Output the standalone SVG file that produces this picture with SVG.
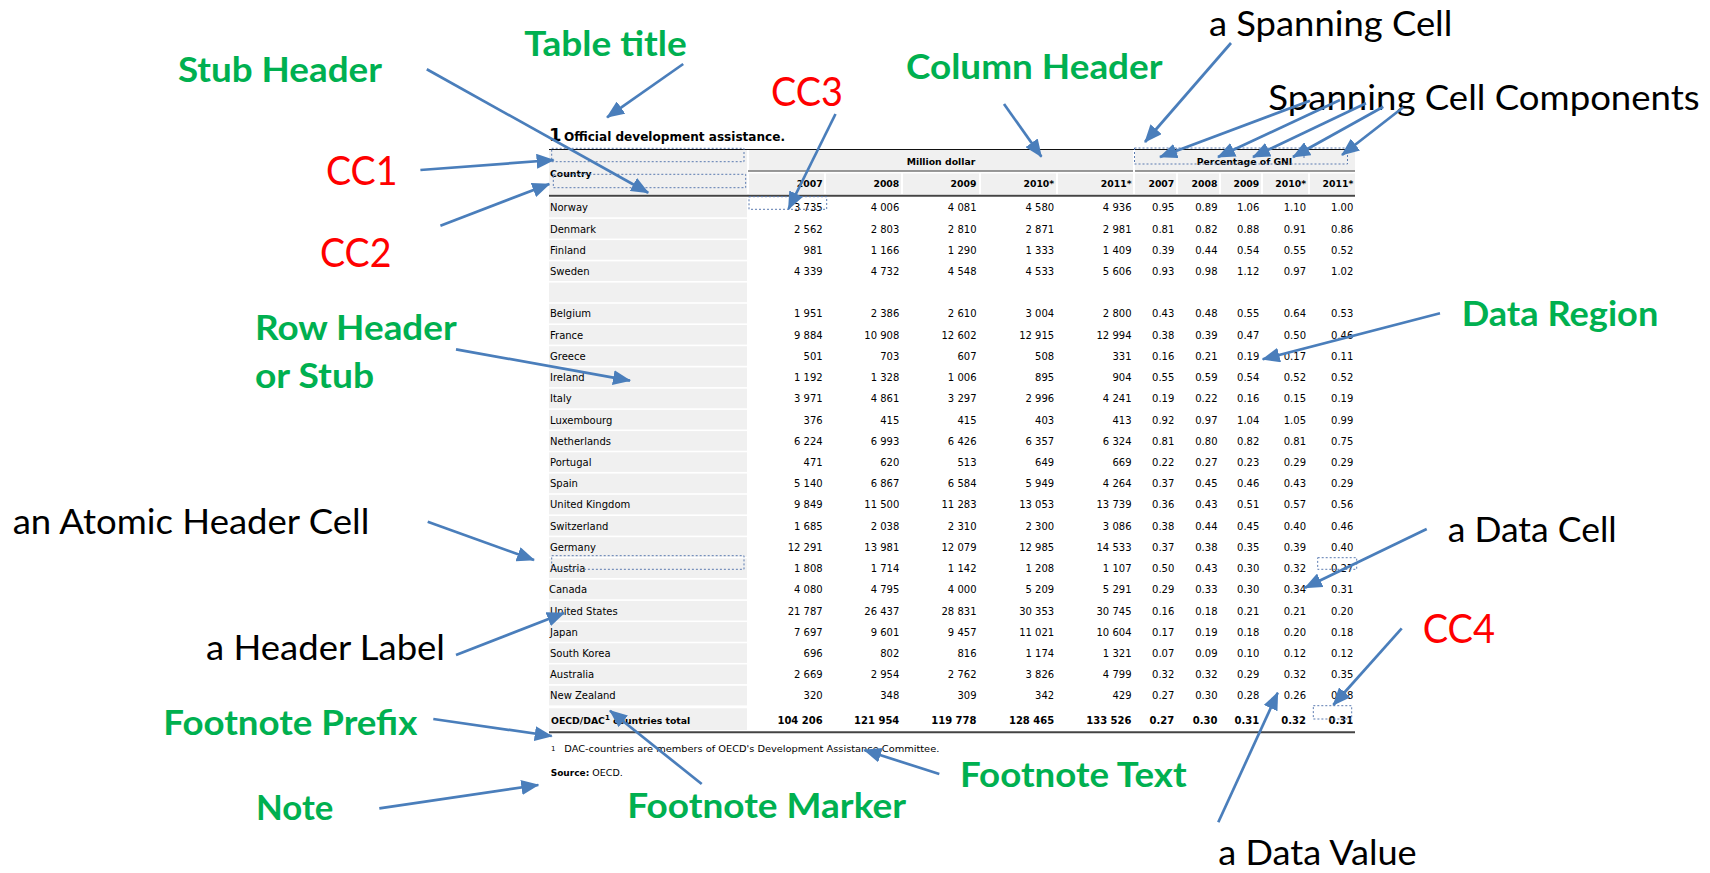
<svg xmlns="http://www.w3.org/2000/svg" width="1710" height="873" viewBox="0 0 1710 873">
<defs>
<marker id="ah" markerUnits="userSpaceOnUse" markerWidth="18" markerHeight="15" viewBox="0 0 18 15" refX="17" refY="7.5" orient="auto">
<path d="M0,0 L18,7.5 L0,15 z" fill="#4A7EBB"/>
</marker>
<style>
.lg{font-family:Lato,"Open Sans","Liberation Sans",sans-serif;font-weight:700;font-size:34px;fill:#00B050}
.lk{font-family:Lato,"Open Sans","Liberation Sans",sans-serif;font-weight:400;font-size:34px;fill:#000}
.lr{font-family:Lato,"Open Sans","Liberation Sans",sans-serif;font-weight:400;font-size:41px;fill:#FF0000}
.t{font-family:"DejaVu Sans","Liberation Sans",sans-serif;font-size:10px;fill:#000}
.t text{font-family:"DejaVu Sans","Liberation Sans",sans-serif;font-size:10px;fill:#000}
.t .n{text-anchor:end}
.t .h{font-weight:bold;font-size:9.3px}
.t .b{font-weight:bold}
.bg{fill:#f0f0f0}
.dash{fill:none;stroke:#5a7ab0;stroke-width:1;stroke-dasharray:2 2}
.arr{stroke:#4A7EBB;stroke-width:2.7;fill:none;marker-end:url(#ah)}
</style>
</defs>
<rect width="1710" height="873" fill="#fff"/>

<g id="table" class="t">
<text x="549" y="140.5" style="font-size:18px;font-weight:bold">1</text>
<text x="564" y="140.5" style="font-size:12px;font-weight:bold" textLength="221" lengthAdjust="spacingAndGlyphs">Official development assistance.</text>
<rect class="bg" x="549" y="150" width="198" height="44"/>
<rect class="bg" x="749" y="150" width="384" height="20.5"/>
<rect class="bg" x="1135" y="150" width="220" height="20.5"/>
<rect class="bg" x="749" y="173.5" width="75" height="20.5"/>
<rect class="bg" x="826" y="173.5" width="75" height="20.5"/>
<rect class="bg" x="903" y="173.5" width="76" height="20.5"/>
<rect class="bg" x="981" y="173.5" width="75" height="20.5"/>
<rect class="bg" x="1058" y="173.5" width="75" height="20.5"/>
<rect class="bg" x="1135" y="173.5" width="41" height="20.5"/>
<rect class="bg" x="1178" y="173.5" width="41" height="20.5"/>
<rect class="bg" x="1221" y="173.5" width="40" height="20.5"/>
<rect class="bg" x="1263" y="173.5" width="45" height="20.5"/>
<rect class="bg" x="1310" y="173.5" width="45" height="20.5"/>
<line x1="549" y1="149.5" x2="1355" y2="149.5" stroke="#111" stroke-width="1.2"/>
<line x1="748" y1="171" x2="1133" y2="171" stroke="#333" stroke-width="1"/>
<line x1="1135" y1="171" x2="1355" y2="171" stroke="#333" stroke-width="1"/>
<line x1="549" y1="195.8" x2="1355" y2="195.8" stroke="#444" stroke-width="2"/>
<text class="h" x="550" y="176.7">Country</text>
<text class="h" x="941" y="165" text-anchor="middle">Million dollar</text>
<text class="h" x="1244.5" y="165" text-anchor="middle">Percentage of GNI</text>
<g transform="translate(0,186.8)">
<text class="h n" x="822.7">2007</text><text class="h n" x="899.3">2008</text><text class="h n" x="976.5">2009</text><text class="h n" x="1054.2">2010*</text><text class="h n" x="1131.5">2011*</text>
<text class="h n" x="1174.3">2007</text><text class="h n" x="1217.5">2008</text><text class="h n" x="1259.3">2009</text><text class="h n" x="1306">2010*</text><text class="h n" x="1353.3">2011*</text>
</g>
<rect class="bg" x="549" y="197.7" width="198" height="19.6"/>
<rect class="bg" x="549" y="218.9" width="198" height="19.6"/>
<rect class="bg" x="549" y="240.1" width="198" height="19.6"/>
<rect class="bg" x="549" y="261.4" width="198" height="19.6"/>
<rect class="bg" x="549" y="282.6" width="198" height="19.6"/>
<rect class="bg" x="549" y="303.8" width="198" height="19.6"/>
<rect class="bg" x="549" y="325.0" width="198" height="19.6"/>
<rect class="bg" x="549" y="346.2" width="198" height="19.6"/>
<rect class="bg" x="549" y="367.5" width="198" height="19.6"/>
<rect class="bg" x="549" y="388.7" width="198" height="19.6"/>
<rect class="bg" x="549" y="409.9" width="198" height="19.6"/>
<rect class="bg" x="549" y="431.1" width="198" height="19.6"/>
<rect class="bg" x="549" y="452.3" width="198" height="19.6"/>
<rect class="bg" x="549" y="473.6" width="198" height="19.6"/>
<rect class="bg" x="549" y="494.8" width="198" height="19.6"/>
<rect class="bg" x="549" y="516.0" width="198" height="19.6"/>
<rect class="bg" x="549" y="537.2" width="198" height="19.6"/>
<rect class="bg" x="549" y="558.4" width="198" height="19.6"/>
<rect class="bg" x="549" y="579.7" width="198" height="19.6"/>
<rect class="bg" x="549" y="600.9" width="198" height="19.6"/>
<rect class="bg" x="549" y="622.1" width="198" height="19.6"/>
<rect class="bg" x="549" y="643.3" width="198" height="19.6"/>
<rect class="bg" x="549" y="664.5" width="198" height="19.6"/>
<rect class="bg" x="549" y="685.8" width="198" height="19.6"/>
<rect class="bg" x="549" y="708.3" width="198" height="21.7"/>
<line x1="549" y1="732.3" x2="1355" y2="732.3" stroke="#444" stroke-width="2"/>

<g transform="translate(0,211.3)"><text x="550">Norway</text><text class="n" x="822.7">3 735</text><text class="n" x="899.3">4 006</text><text class="n" x="976.5">4 081</text><text class="n" x="1054.2">4 580</text><text class="n" x="1131.5">4 936</text><text class="n" x="1174.3">0.95</text><text class="n" x="1217.5">0.89</text><text class="n" x="1259.3">1.06</text><text class="n" x="1306">1.10</text><text class="n" x="1353.3">1.00</text></g>
<g transform="translate(0,232.5)"><text x="550">Denmark</text><text class="n" x="822.7">2 562</text><text class="n" x="899.3">2 803</text><text class="n" x="976.5">2 810</text><text class="n" x="1054.2">2 871</text><text class="n" x="1131.5">2 981</text><text class="n" x="1174.3">0.81</text><text class="n" x="1217.5">0.82</text><text class="n" x="1259.3">0.88</text><text class="n" x="1306">0.91</text><text class="n" x="1353.3">0.86</text></g>
<g transform="translate(0,253.7)"><text x="550">Finland</text><text class="n" x="822.7">981</text><text class="n" x="899.3">1 166</text><text class="n" x="976.5">1 290</text><text class="n" x="1054.2">1 333</text><text class="n" x="1131.5">1 409</text><text class="n" x="1174.3">0.39</text><text class="n" x="1217.5">0.44</text><text class="n" x="1259.3">0.54</text><text class="n" x="1306">0.55</text><text class="n" x="1353.3">0.52</text></g>
<g transform="translate(0,275.0)"><text x="550">Sweden</text><text class="n" x="822.7">4 339</text><text class="n" x="899.3">4 732</text><text class="n" x="976.5">4 548</text><text class="n" x="1054.2">4 533</text><text class="n" x="1131.5">5 606</text><text class="n" x="1174.3">0.93</text><text class="n" x="1217.5">0.98</text><text class="n" x="1259.3">1.12</text><text class="n" x="1306">0.97</text><text class="n" x="1353.3">1.02</text></g>
<g transform="translate(0,317.4)"><text x="550">Belgium</text><text class="n" x="822.7">1 951</text><text class="n" x="899.3">2 386</text><text class="n" x="976.5">2 610</text><text class="n" x="1054.2">3 004</text><text class="n" x="1131.5">2 800</text><text class="n" x="1174.3">0.43</text><text class="n" x="1217.5">0.48</text><text class="n" x="1259.3">0.55</text><text class="n" x="1306">0.64</text><text class="n" x="1353.3">0.53</text></g>
<g transform="translate(0,338.6)"><text x="550">France</text><text class="n" x="822.7">9 884</text><text class="n" x="899.3">10 908</text><text class="n" x="976.5">12 602</text><text class="n" x="1054.2">12 915</text><text class="n" x="1131.5">12 994</text><text class="n" x="1174.3">0.38</text><text class="n" x="1217.5">0.39</text><text class="n" x="1259.3">0.47</text><text class="n" x="1306">0.50</text><text class="n" x="1353.3">0.46</text></g>
<g transform="translate(0,359.8)"><text x="550">Greece</text><text class="n" x="822.7">501</text><text class="n" x="899.3">703</text><text class="n" x="976.5">607</text><text class="n" x="1054.2">508</text><text class="n" x="1131.5">331</text><text class="n" x="1174.3">0.16</text><text class="n" x="1217.5">0.21</text><text class="n" x="1259.3">0.19</text><text class="n" x="1306">0.17</text><text class="n" x="1353.3">0.11</text></g>
<g transform="translate(0,381.1)"><text x="550">Ireland</text><text class="n" x="822.7">1 192</text><text class="n" x="899.3">1 328</text><text class="n" x="976.5">1 006</text><text class="n" x="1054.2">895</text><text class="n" x="1131.5">904</text><text class="n" x="1174.3">0.55</text><text class="n" x="1217.5">0.59</text><text class="n" x="1259.3">0.54</text><text class="n" x="1306">0.52</text><text class="n" x="1353.3">0.52</text></g>
<g transform="translate(0,402.3)"><text x="550">Italy</text><text class="n" x="822.7">3 971</text><text class="n" x="899.3">4 861</text><text class="n" x="976.5">3 297</text><text class="n" x="1054.2">2 996</text><text class="n" x="1131.5">4 241</text><text class="n" x="1174.3">0.19</text><text class="n" x="1217.5">0.22</text><text class="n" x="1259.3">0.16</text><text class="n" x="1306">0.15</text><text class="n" x="1353.3">0.19</text></g>
<g transform="translate(0,423.5)"><text x="550">Luxembourg</text><text class="n" x="822.7">376</text><text class="n" x="899.3">415</text><text class="n" x="976.5">415</text><text class="n" x="1054.2">403</text><text class="n" x="1131.5">413</text><text class="n" x="1174.3">0.92</text><text class="n" x="1217.5">0.97</text><text class="n" x="1259.3">1.04</text><text class="n" x="1306">1.05</text><text class="n" x="1353.3">0.99</text></g>
<g transform="translate(0,444.7)"><text x="550">Netherlands</text><text class="n" x="822.7">6 224</text><text class="n" x="899.3">6 993</text><text class="n" x="976.5">6 426</text><text class="n" x="1054.2">6 357</text><text class="n" x="1131.5">6 324</text><text class="n" x="1174.3">0.81</text><text class="n" x="1217.5">0.80</text><text class="n" x="1259.3">0.82</text><text class="n" x="1306">0.81</text><text class="n" x="1353.3">0.75</text></g>
<g transform="translate(0,465.9)"><text x="550">Portugal</text><text class="n" x="822.7">471</text><text class="n" x="899.3">620</text><text class="n" x="976.5">513</text><text class="n" x="1054.2">649</text><text class="n" x="1131.5">669</text><text class="n" x="1174.3">0.22</text><text class="n" x="1217.5">0.27</text><text class="n" x="1259.3">0.23</text><text class="n" x="1306">0.29</text><text class="n" x="1353.3">0.29</text></g>
<g transform="translate(0,487.2)"><text x="550">Spain</text><text class="n" x="822.7">5 140</text><text class="n" x="899.3">6 867</text><text class="n" x="976.5">6 584</text><text class="n" x="1054.2">5 949</text><text class="n" x="1131.5">4 264</text><text class="n" x="1174.3">0.37</text><text class="n" x="1217.5">0.45</text><text class="n" x="1259.3">0.46</text><text class="n" x="1306">0.43</text><text class="n" x="1353.3">0.29</text></g>
<g transform="translate(0,508.4)"><text x="550">United Kingdom</text><text class="n" x="822.7">9 849</text><text class="n" x="899.3">11 500</text><text class="n" x="976.5">11 283</text><text class="n" x="1054.2">13 053</text><text class="n" x="1131.5">13 739</text><text class="n" x="1174.3">0.36</text><text class="n" x="1217.5">0.43</text><text class="n" x="1259.3">0.51</text><text class="n" x="1306">0.57</text><text class="n" x="1353.3">0.56</text></g>
<g transform="translate(0,529.6)"><text x="550">Switzerland</text><text class="n" x="822.7">1 685</text><text class="n" x="899.3">2 038</text><text class="n" x="976.5">2 310</text><text class="n" x="1054.2">2 300</text><text class="n" x="1131.5">3 086</text><text class="n" x="1174.3">0.38</text><text class="n" x="1217.5">0.44</text><text class="n" x="1259.3">0.45</text><text class="n" x="1306">0.40</text><text class="n" x="1353.3">0.46</text></g>
<g transform="translate(0,550.8)"><text x="550">Germany</text><text class="n" x="822.7">12 291</text><text class="n" x="899.3">13 981</text><text class="n" x="976.5">12 079</text><text class="n" x="1054.2">12 985</text><text class="n" x="1131.5">14 533</text><text class="n" x="1174.3">0.37</text><text class="n" x="1217.5">0.38</text><text class="n" x="1259.3">0.35</text><text class="n" x="1306">0.39</text><text class="n" x="1353.3">0.40</text></g>
<g transform="translate(0,572.0)"><text x="550">Austria</text><text class="n" x="822.7">1 808</text><text class="n" x="899.3">1 714</text><text class="n" x="976.5">1 142</text><text class="n" x="1054.2">1 208</text><text class="n" x="1131.5">1 107</text><text class="n" x="1174.3">0.50</text><text class="n" x="1217.5">0.43</text><text class="n" x="1259.3">0.30</text><text class="n" x="1306">0.32</text><text class="n" x="1353.3">0.27</text></g>
<g transform="translate(0,593.2)"><text x="549">Canada</text><text class="n" x="822.7">4 080</text><text class="n" x="899.3">4 795</text><text class="n" x="976.5">4 000</text><text class="n" x="1054.2">5 209</text><text class="n" x="1131.5">5 291</text><text class="n" x="1174.3">0.29</text><text class="n" x="1217.5">0.33</text><text class="n" x="1259.3">0.30</text><text class="n" x="1306">0.34</text><text class="n" x="1353.3">0.31</text></g>
<g transform="translate(0,614.5)"><text x="550">United States</text><text class="n" x="822.7">21 787</text><text class="n" x="899.3">26 437</text><text class="n" x="976.5">28 831</text><text class="n" x="1054.2">30 353</text><text class="n" x="1131.5">30 745</text><text class="n" x="1174.3">0.16</text><text class="n" x="1217.5">0.18</text><text class="n" x="1259.3">0.21</text><text class="n" x="1306">0.21</text><text class="n" x="1353.3">0.20</text></g>
<g transform="translate(0,635.7)"><text x="550">Japan</text><text class="n" x="822.7">7 697</text><text class="n" x="899.3">9 601</text><text class="n" x="976.5">9 457</text><text class="n" x="1054.2">11 021</text><text class="n" x="1131.5">10 604</text><text class="n" x="1174.3">0.17</text><text class="n" x="1217.5">0.19</text><text class="n" x="1259.3">0.18</text><text class="n" x="1306">0.20</text><text class="n" x="1353.3">0.18</text></g>
<g transform="translate(0,656.9)"><text x="550">South Korea</text><text class="n" x="822.7">696</text><text class="n" x="899.3">802</text><text class="n" x="976.5">816</text><text class="n" x="1054.2">1 174</text><text class="n" x="1131.5">1 321</text><text class="n" x="1174.3">0.07</text><text class="n" x="1217.5">0.09</text><text class="n" x="1259.3">0.10</text><text class="n" x="1306">0.12</text><text class="n" x="1353.3">0.12</text></g>
<g transform="translate(0,678.1)"><text x="550">Australia</text><text class="n" x="822.7">2 669</text><text class="n" x="899.3">2 954</text><text class="n" x="976.5">2 762</text><text class="n" x="1054.2">3 826</text><text class="n" x="1131.5">4 799</text><text class="n" x="1174.3">0.32</text><text class="n" x="1217.5">0.32</text><text class="n" x="1259.3">0.29</text><text class="n" x="1306">0.32</text><text class="n" x="1353.3">0.35</text></g>
<g transform="translate(0,699.4)"><text x="550">New Zealand</text><text class="n" x="822.7">320</text><text class="n" x="899.3">348</text><text class="n" x="976.5">309</text><text class="n" x="1054.2">342</text><text class="n" x="1131.5">429</text><text class="n" x="1174.3">0.27</text><text class="n" x="1217.5">0.30</text><text class="n" x="1259.3">0.28</text><text class="n" x="1306">0.26</text><text class="n" x="1353.3">0.28</text></g>
<g transform="translate(0,723.5)"><text class="h" x="551">OECD/DAC<tspan dy="-4" style="font-size:7px">1</tspan><tspan dy="4"> countries total</tspan></text><text class="b n" x="822.7">104 206</text><text class="b n" x="899.3">121 954</text><text class="b n" x="976.5">119 778</text><text class="b n" x="1054.2">128 465</text><text class="b n" x="1131.5">133 526</text><text class="b n" x="1174.3">0.27</text><text class="b n" x="1217.5">0.30</text><text class="b n" x="1259.3">0.31</text><text class="b n" x="1306">0.32</text><text class="b n" x="1353.3">0.31</text></g>
<text x="551" y="750.5" style="font-size:7px">1</text>
<text x="564.3" y="751.5" style="font-size:9.5px" textLength="375" lengthAdjust="spacingAndGlyphs">DAC-countries are members of OECD's Development Assistance Committee.</text>
<text x="550.7" y="775.5" style="font-size:9.5px"><tspan style="font-weight:bold;font-size:9px">Source:</tspan> OECD.</text>
</g>

<g id="cell-boxes">
<rect class="dash" x="551.7" y="148.3" width="192.3" height="13.4"/>
<rect class="dash" x="553.3" y="174.3" width="192.4" height="13.4"/>
<rect class="dash" x="749" y="196.7" width="77.7" height="12.6"/>
<rect class="dash" x="1134.5" y="148" width="213" height="16"/>
<line class="dash" x1="1347.5" y1="148" x2="1354" y2="148"/>
<line class="dash" x1="1176.7" y1="148" x2="1176.7" y2="160"/>
<line class="dash" x1="1304" y1="148" x2="1304" y2="159"/>
<rect class="dash" x="551.7" y="555.7" width="192.3" height="13.6"/>
<rect class="dash" x="1317.7" y="557.7" width="39" height="11.6"/>
<rect class="dash" x="1313.3" y="705.7" width="38.4" height="13.3"/>
</g>

<g id="label-table-title"><text class="lg" x="524.3" y="56" textLength="162.5" lengthAdjust="spacingAndGlyphs">Table title</text></g>
<g id="label-stub-header"><text class="lg" x="177.9" y="81.7" textLength="204" lengthAdjust="spacingAndGlyphs">Stub Header</text></g>
<g id="label-column-header"><text class="lg" x="906" y="79" textLength="256.5" lengthAdjust="spacingAndGlyphs">Column Header</text></g>
<g id="label-spanning-cell"><text class="lk" x="1208.9" y="36" textLength="243.4" lengthAdjust="spacingAndGlyphs">a Spanning Cell</text></g>
<g id="label-spanning-components"><text class="lk" x="1268.3" y="110" textLength="431.4" lengthAdjust="spacingAndGlyphs">Spanning Cell Components</text></g>
<g id="label-cc1"><text class="lr" x="326" y="185" textLength="71.5" lengthAdjust="spacingAndGlyphs">CC1</text></g>
<g id="label-cc2"><text class="lr" x="320" y="266.7" textLength="71.4" lengthAdjust="spacingAndGlyphs">CC2</text></g>
<g id="label-cc3"><text class="lr" x="770.9" y="106" textLength="72" lengthAdjust="spacingAndGlyphs">CC3</text></g>
<g id="label-row-header"><text class="lg" x="255" y="340" textLength="201.7" lengthAdjust="spacingAndGlyphs">Row Header</text><text class="lg" x="255" y="388.3" textLength="119" lengthAdjust="spacingAndGlyphs">or Stub</text></g>
<g id="label-data-region"><text class="lg" x="1461.7" y="326" textLength="196.6" lengthAdjust="spacingAndGlyphs">Data Region</text></g>
<g id="label-atomic-header"><text class="lk" x="12.7" y="534.3" textLength="356.6" lengthAdjust="spacingAndGlyphs">an Atomic Header Cell</text></g>
<g id="label-data-cell"><text class="lk" x="1447.7" y="541.7" textLength="169" lengthAdjust="spacingAndGlyphs">a Data Cell</text></g>
<g id="label-header-label"><text class="lk" x="206" y="660" textLength="239" lengthAdjust="spacingAndGlyphs">a Header Label</text></g>
<g id="label-cc4"><text class="lr" x="1422.7" y="643.3" textLength="72.3" lengthAdjust="spacingAndGlyphs">CC4</text></g>
<g id="label-footnote-prefix"><text class="lg" x="163.3" y="735" textLength="254" lengthAdjust="spacingAndGlyphs">Footnote Prefix</text></g>
<g id="label-note"><text class="lg" x="256" y="820" textLength="77.3" lengthAdjust="spacingAndGlyphs">Note</text></g>
<g id="label-footnote-marker"><text class="lg" x="627.3" y="818.3" textLength="278.7" lengthAdjust="spacingAndGlyphs">Footnote Marker</text></g>
<g id="label-footnote-text"><text class="lg" x="960" y="787.3" textLength="226.6" lengthAdjust="spacingAndGlyphs">Footnote Text</text></g>
<g id="label-data-value"><text class="lk" x="1218.3" y="865" textLength="198.4" lengthAdjust="spacingAndGlyphs">a Data Value</text></g>

<g id="connectors">
<line class="arr" x1="683.2" y1="64" x2="607.1" y2="117.3"/>
<line class="arr" x1="426.8" y1="69.3" x2="648.2" y2="192.7"/>
<line class="arr" x1="420.4" y1="170" x2="553.6" y2="160"/>
<line class="arr" x1="440.4" y1="225.7" x2="549.3" y2="184"/>
<line class="arr" x1="835.5" y1="114" x2="788.5" y2="209"/>
<line class="arr" x1="1004" y1="104" x2="1041.4" y2="156.7"/>
<line class="arr" x1="1231" y1="43" x2="1145" y2="142"/>
<line class="arr" x1="1310" y1="100.7" x2="1160" y2="157"/>
<line class="arr" x1="1340" y1="100" x2="1218" y2="157"/>
<line class="arr" x1="1366" y1="103.3" x2="1253" y2="157"/>
<line class="arr" x1="1383.3" y1="106.7" x2="1293" y2="157"/>
<line class="arr" x1="1403.3" y1="107.3" x2="1342" y2="155"/>
<line class="arr" x1="456" y1="349.3" x2="630" y2="380.6"/>
<line class="arr" x1="1440" y1="313.3" x2="1262.7" y2="359.3"/>
<line class="arr" x1="427.7" y1="521.7" x2="534" y2="560"/>
<line class="arr" x1="1426.7" y1="529" x2="1305" y2="587.7"/>
<line class="arr" x1="456" y1="655" x2="564" y2="613"/>
<line class="arr" x1="1401.7" y1="628.3" x2="1333.3" y2="705"/>
<line class="arr" x1="433.3" y1="719" x2="551.7" y2="736"/>
<line class="arr" x1="379.3" y1="808.3" x2="538.3" y2="785"/>
<line class="arr" x1="701.7" y1="784" x2="610" y2="710.7"/>
<line class="arr" x1="939.3" y1="774" x2="864.3" y2="750"/>
<line class="arr" x1="1218.3" y1="822.3" x2="1277.7" y2="692.7"/>
</g>
</svg>
